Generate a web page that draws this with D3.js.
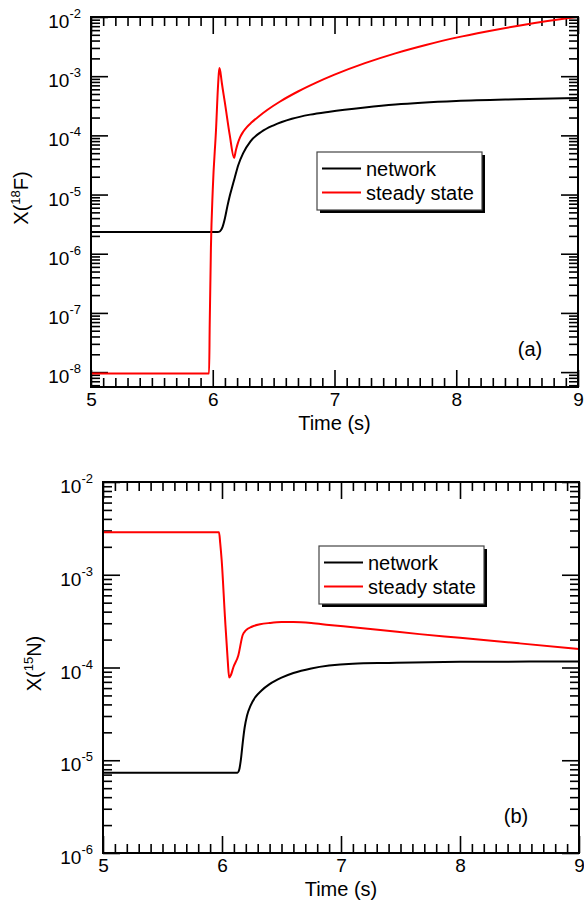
<!DOCTYPE html>
<html>
<head>
<meta charset="utf-8">
<script src="https://cdn.jsdelivr.net/npm/d3@7"></script>
<style>
  body { margin: 0; background: #fff; }
  svg { display: block; }
  text { font-family: "Liberation Sans", Arial, Helvetica, sans-serif; fill: #000; }
</style>
</head>
<body>
<svg id="chart" width="584" height="904"></svg>
<script>
// Axis ticks
const timeTicks = [5, 6, 7, 8, 9];
const f18Exponents = [-8, -7, -6, -5, -4, -3, -2];
const n15Exponents = [-6, -5, -4, -3, -2];

// 18F abundance: full network
const f18NetworkTime = [5, 6.04, 6.06, 6.08, 6.1, 6.12, 6.14, 6.16, 6.18, 6.21, 6.25, 6.31, 6.4, 6.5, 6.65, 6.8, 6.96, 7.25, 7.5, 8, 8.5, 9];
const f18NetworkX = [2.32e-6, 2.32e-6, 2.40e-6, 2.82e-6, 3.98e-6, 6.31e-6, 9.55e-6, 1.35e-5, 1.91e-5, 3.16e-5, 5.01e-5, 7.94e-5, 1.15e-4, 1.48e-4, 1.91e-4, 2.24e-4, 2.51e-4, 2.95e-4, 3.31e-4, 3.80e-4, 4.07e-4, 4.27e-4];

// 18F abundance: steady state
const f18SteadyTime = [5, 5.97, 5.975, 5.985, 6.0, 6.027, 6.045, 6.054, 6.062, 6.075, 6.1, 6.14, 6.175, 6.19, 6.205, 6.225, 6.25, 6.28, 6.32, 6.38, 6.45, 6.55, 6.7, 6.85, 7.0, 7.25, 7.5, 7.75, 8, 8.25, 8.5, 8.75, 9];
const f18SteadyX = [9.5e-9, 9.5e-9, 6.3e-8, 1.26e-6, 1.2e-5, 1.26e-4, 7.9e-4, 1.38e-3, 1.2e-3, 7.6e-4, 3.55e-4, 1.0e-4, 4.17e-5, 5.62e-5, 7.24e-5, 9.33e-5, 1.15e-4, 1.38e-4, 1.66e-4, 2.11e-4, 2.71e-4, 3.70e-4, 5.51e-4, 7.78e-4, 1.06e-3, 1.66e-3, 2.43e-3, 3.36e-3, 4.48e-3, 5.70e-3, 7.06e-3, 8.53e-3, 1.01e-2];

// 15N abundance: full network
const n15NetworkTime = [5, 6.13, 6.145, 6.16, 6.175, 6.19, 6.21, 6.24, 6.28, 6.33, 6.4, 6.5, 6.6, 6.75, 6.9, 7.1, 7.4, 8, 9];
const n15NetworkX = [7.35e-6, 7.35e-6, 7.94e-6, 1.05e-5, 1.58e-5, 2.24e-5, 3.02e-5, 3.89e-5, 4.79e-5, 5.62e-5, 6.61e-5, 7.76e-5, 8.71e-5, 9.77e-5, 1.05e-4, 1.10e-4, 1.12e-4, 1.15e-4, 1.16e-4];

// 15N abundance: steady state
const n15SteadyTime = [5, 5.975, 5.985, 5.997, 6.025, 6.048, 6.06, 6.075, 6.095, 6.137, 6.174, 6.2, 6.25, 6.32, 6.4, 6.5, 6.6, 6.75, 6.9, 7.1, 7.33, 7.66, 8, 8.5, 9];
const n15SteadyX = [2.88e-3, 2.88e-3, 2.19e-3, 1.45e-3, 3.47e-4, 1.2e-4, 7.8e-5, 8.3e-5, 1.0e-4, 1.35e-4, 2.24e-4, 2.51e-4, 2.75e-4, 2.92e-4, 3.02e-4, 3.09e-4, 3.09e-4, 3.02e-4, 2.88e-4, 2.72e-4, 2.54e-4, 2.29e-4, 2.09e-4, 1.82e-4, 1.58e-4];

const seriesNames = ["network", "steady state"];
const seriesColors = ["#000000", "#ff0000"];

const svg = d3.select("#chart");

const panels = [
  {
    id: "a", left: 91, right: 578, top: 17, bottom: 387, yMin: 5.6e-9, yMax: 1e-2,
    exponents: f18Exponents, mass: "18", element: "F",
    series: [[f18NetworkTime, f18NetworkX], [f18SteadyTime, f18SteadyX]],
    legend: { x: 317, y: 152 }, tag: { x: 530, y: 356 }, titleX: 28
  },
  {
    id: "b", left: 103, right: 579, top: 482, bottom: 853, yMin: 1e-6, yMax: 1e-2,
    exponents: n15Exponents, mass: "15", element: "N",
    series: [[n15NetworkTime, n15NetworkX], [n15SteadyTime, n15SteadyX]],
    legend: { x: 319, y: 546 }, tag: { x: 516, y: 823 }, titleX: 41
  }
];

const MAJOR = 17, MINOR = 9;

panels.forEach(p => {
  const g = svg.append("g");
  const x = d3.scaleLinear().domain([5, 9]).range([p.left, p.right]);
  const y = d3.scaleLog().domain([p.yMin, p.yMax]).range([p.bottom, p.top]);

  const majorX = timeTicks;
  const minorX = d3.range(50, 91).filter(v => v % 10 !== 0).map(v => v / 10);
  const majorY = p.exponents.map(e => Math.pow(10, e));
  const minorY = [];
  const lo = Math.floor(Math.log10(p.yMin));
  for (let k = lo; k < -2; k++) {
    for (let m = 2; m <= 9; m++) {
      const v = m * Math.pow(10, k);
      if (v >= p.yMin * 0.999 && v <= p.yMax) minorY.push(v);
    }
  }

  const styleAxis = sel => {
    sel.select(".domain").remove();
    sel.selectAll(".tick line").attr("stroke", "#000").attr("stroke-width", 1.6);
  };

  // Inward ticks on all four sides
  [[majorX, MAJOR], [minorX, MINOR]].forEach(([vals, len]) => {
    g.append("g").attr("transform", `translate(0,${p.bottom})`)
      .call(d3.axisBottom(x).tickValues(vals).tickSize(-len).tickSizeOuter(0).tickFormat(""))
      .call(styleAxis);
    g.append("g").attr("transform", `translate(0,${p.top})`)
      .call(d3.axisTop(x).tickValues(vals).tickSize(-len).tickSizeOuter(0).tickFormat(""))
      .call(styleAxis);
  });
  [[majorY, MAJOR], [minorY, MINOR]].forEach(([vals, len]) => {
    g.append("g").attr("transform", `translate(${p.left},0)`)
      .call(d3.axisLeft(y).tickValues(vals).tickSize(-len).tickSizeOuter(0).tickFormat(""))
      .call(styleAxis);
    g.append("g").attr("transform", `translate(${p.right},0)`)
      .call(d3.axisRight(y).tickValues(vals).tickSize(-len).tickSizeOuter(0).tickFormat(""))
      .call(styleAxis);
  });

  // Time tick labels
  g.append("g").attr("transform", `translate(0,${p.bottom})`)
    .call(d3.axisBottom(x).tickValues(majorX).tickSize(0).tickPadding(6).tickFormat(d3.format("d")))
    .call(sel => {
      sel.select(".domain").remove();
      sel.selectAll("text").attr("font-size", 19).attr("font-family", null).attr("fill", "#000");
    });

  // Power-of-ten labels
  const yl = g.append("g");
  p.exponents.forEach(e => {
    const t = yl.append("text")
      .attr("x", p.left - 10)
      .attr("y", y(Math.pow(10, e)) + 11)
      .attr("text-anchor", "end")
      .attr("font-size", 19);
    t.append("tspan").text("10");
    t.append("tspan").attr("dy", -10).attr("font-size", 13).text(String(e));
  });

  // Data curves
  const clipId = "clip-" + p.id;
  svg.append("clipPath").attr("id", clipId)
    .append("rect").attr("x", p.left).attr("y", p.top)
    .attr("width", p.right - p.left).attr("height", p.bottom - p.top);

  const line = d3.line()
    .x(d => x(d[0]))
    .y(d => y(d[1]))
    .curve(d3.curveMonotoneX);

  p.series.forEach(([ts, vs], i) => {
    g.append("path")
      .datum(ts.map((t, j) => [t, vs[j]]))
      .attr("clip-path", `url(#${clipId})`)
      .attr("fill", "none")
      .attr("stroke", seriesColors[i])
      .attr("stroke-width", 2)
      .attr("stroke-linejoin", "round")
      .attr("d", line);
  });

  // Frame
  g.append("rect")
    .attr("x", p.left).attr("y", p.top)
    .attr("width", p.right - p.left).attr("height", p.bottom - p.top)
    .attr("fill", "none").attr("stroke", "#000").attr("stroke-width", 2);

  // Axis titles
  g.append("text")
    .attr("x", (p.left + p.right) / 2)
    .attr("y", p.bottom + 43)
    .attr("text-anchor", "middle")
    .attr("font-size", 20)
    .text("Time (s)");

  const yt = g.append("text")
    .attr("transform", `translate(${p.titleX},${(p.top + p.bottom) / 2 - 4}) rotate(-90)`)
    .attr("text-anchor", "middle")
    .attr("font-size", 20);
  yt.append("tspan").text("X(");
  yt.append("tspan").attr("dy", -8).attr("font-size", 13).text(p.mass);
  yt.append("tspan").attr("dy", 8).text(p.element + ")");

  // Legend with drop shadow
  const lg = g.append("g").attr("transform", `translate(${p.legend.x},${p.legend.y})`);
  lg.append("rect").attr("x", 3).attr("y", 3).attr("width", 165).attr("height", 58).attr("fill", "#000");
  lg.append("rect").attr("x", 0).attr("y", 0).attr("width", 165).attr("height", 58)
    .attr("fill", "#fff").attr("stroke", "#444").attr("stroke-width", 1.2);
  seriesNames.forEach((name, i) => {
    const ly = 16.5 + i * 24;
    lg.append("line").attr("x1", 5).attr("x2", 44).attr("y1", ly).attr("y2", ly)
      .attr("stroke", seriesColors[i]).attr("stroke-width", 2);
    lg.append("text").attr("x", 49).attr("y", ly + 7).attr("font-size", 20).text(name);
  });

  // Panel tag
  g.append("text").attr("x", p.tag.x).attr("y", p.tag.y)
    .attr("text-anchor", "middle").attr("font-size", 20).text(`(${p.id})`);
});
</script>
</body>
</html>
